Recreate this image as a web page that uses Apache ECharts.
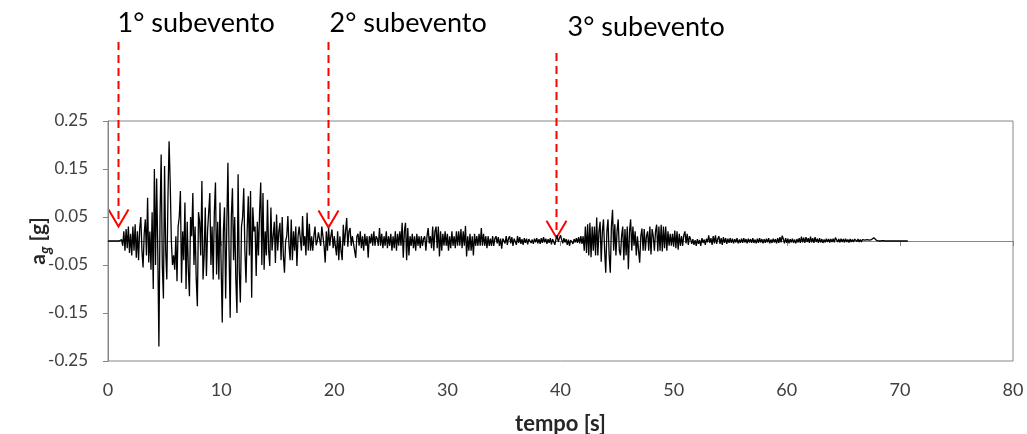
<!DOCTYPE html>
<html><head><meta charset="utf-8">
<script src="https://cdn.jsdelivr.net/npm/echarts@6/dist/echarts.min.js"></script>
<style>html,body{margin:0;padding:0;background:#fff}#c{width:1027px;height:434px}</style>
</head><body><div id="c"></div>
<script>
// sampling of the record (s)
const T_START = 0;
const DT = 0.1;
// acceleration a_g [g], 10 values per second
const acc_00_10 = [
0,0,0,0,0,0,0,0,0,0,
0,0,0.003,-0.01,0.02,-0.02,0.025,-0.015,0.03,-0.025,
0.015,-0.03,0.03,-0.02,0.035,-0.035,0.02,-0.04,0.025,0.05,
-0.02,-0.055,0.015,0.045,-0.03,0.09,-0.045,0.02,-0.06,0.06,
-0.1,0.15,-0.05,0.13,-0.02,-0.22,0.05,0.18,-0.05,-0.12,
0.156,-0.02,-0.08,0.09,0.208,0.12,0.0,-0.05,-0.03,-0.06,
0.01,-0.084,0.03,0.05,0.104,-0.087,0.02,-0.04,0.08,-0.1,
0.04,-0.06,-0.115,0.05,0.01,0.1,-0.05,0.03,-0.08,-0.136,
0.06,0.04,-0.03,0.125,-0.08,-0.03,0.07,-0.073,0.02,0.06,
0.1,-0.05,0.03,-0.08,0.06,0.122,-0.07,0.04,-0.08,0.08];
const acc_10_20 = [
-0.05,-0.17,0.02,0.07,-0.12,0.03,0.163,-0.02,-0.16,0.05,
0.11,-0.04,0.05,-0.08,-0.15,0.139,-0.06,-0.128,0.03,0.05,
0.11,-0.02,-0.087,0.02,0.093,-0.03,0.104,-0.118,0.07,0.02,
0.03,-0.073,0.04,-0.03,0.06,0.122,-0.05,0.1,-0.06,0.02,
-0.03,0.086,-0.02,-0.052,0.07,-0.02,0.01,0.04,-0.046,0.055,
-0.02,0.02,0.038,-0.04,0.05,-0.03,-0.066,0.0,0.01,0.052,
-0.01,-0.04,0.045,-0.04,0.02,-0.02,0.03,-0.052,0.01,0.03,
0.03,-0.02,0.052,-0.01,0.01,-0.03,0.059,-0.02,0.036,-0.02,
0.01,-0.02,0.01,0.03,-0.009,0.0,0.018,0.02,-0.01,0.03,
0.03,-0.01,-0.045,0.02,-0.02,0.027,-0.01,0.01,0.024,-0.015];
const acc_20_30 = [
0.01,-0.01,-0.03,0.02,-0.04,0.01,-0.02,-0.04,0.034,-0.01,
0.02,0.048,-0.012,0.02,0.027,-0.01,0.01,-0.005,-0.02,-0.035,
0.01,0.015,-0.01,0.02,-0.015,0.01,-0.02,0.015,-0.01,0.01,
-0.035,0.01,-0.005,0.015,-0.01,0.02,-0.01,0.01,0.005,-0.01,
0.027,-0.01,0.015,-0.015,0.01,-0.01,0.02,-0.015,0.01,-0.01,
0.015,-0.02,0.01,-0.015,0.02,-0.02,0.015,-0.01,0.02,-0.01,
0.038,-0.035,0.02,0.038,-0.04,0.027,-0.03,0.01,-0.01,0.015,
-0.015,0.01,-0.02,0.015,-0.01,0.01,-0.015,0.01,-0.01,0.005,
0.01,-0.02,0.01,0.027,-0.005,0.01,-0.015,0.03,-0.02,0.02,
0.03,-0.015,0.03,-0.032,0.02,-0.02,0.015,-0.01,0.02,-0.01];
const acc_30_40 = [
0.015,-0.02,0.01,-0.015,0.02,-0.01,0.01,-0.015,0.02,-0.01,
0.02,-0.01,0.025,-0.015,0.02,-0.01,0.031,-0.032,0.01,-0.02,
0.015,-0.02,0.01,-0.03,0.015,-0.01,0.01,-0.01,0.015,-0.01,
0.027,-0.01,0.015,-0.01,0.01,-0.015,0.01,-0.01,0.005,-0.01,
0.01,-0.01,0.005,0.01,-0.005,0.008,-0.01,0.005,-0.016,0.005,
0.008,-0.005,0.01,-0.008,0.005,0.01,-0.005,0.008,-0.01,0.005,
0.006,-0.008,0.01,-0.004,0.008,-0.006,0.004,-0.008,0.006,-0.004,
0.005,-0.007,0.004,0.008,-0.004,0.003,-0.006,0.005,-0.003,0.006,
-0.005,0.004,-0.006,0.006,-0.004,0.008,-0.003,0.005,-0.006,0.004,
-0.004,0.006,-0.007,0.004,0.005,-0.008,0.004,0.012,-0.002,0.006];
const acc_40_50 = [
0.012,0.003,-0.005,0.006,-0.003,0.004,-0.008,0.003,-0.01,0.002,
0.005,-0.006,0.004,-0.003,0.006,-0.004,0.008,-0.005,0.01,-0.006,
0.01,-0.02,0.03,-0.025,0.035,-0.03,0.038,-0.034,0.03,-0.02,
0.03,-0.03,0.049,-0.03,0.02,0.04,-0.043,0.02,0.045,-0.02,
-0.066,0.02,0.045,-0.03,-0.066,0.03,0.065,-0.02,0.035,-0.03,
0.02,0.045,-0.02,-0.03,0.01,0.03,-0.04,0.025,-0.03,0.03,
-0.059,0.02,0.045,-0.02,0.03,-0.01,0.02,-0.03,0.01,-0.02,
-0.045,0.01,0.026,-0.02,0.025,-0.02,0.01,0.02,-0.02,0.03,
-0.028,0.025,0.01,-0.02,0.02,0.034,-0.022,0.03,-0.02,0.034,
-0.022,0.03,-0.015,0.03,-0.02,0.02,-0.01,0.015,-0.01,0.015];
const acc_50_60 = [
-0.012,0.022,-0.015,0.02,-0.018,0.015,-0.01,0.01,-0.01,0.012,
0.02,-0.005,0.015,-0.008,0.01,0.004,-0.006,0.004,-0.008,0.002,
-0.01,0.004,-0.006,0.002,-0.01,0.006,-0.004,0.003,-0.008,0.005,
-0.003,0.012,-0.004,0.006,-0.008,0.01,-0.005,0.012,-0.006,0.004,
0.01,-0.006,0.006,-0.008,0.008,-0.004,0.006,-0.006,0.005,-0.004,
0.006,-0.004,0.005,-0.005,0.004,-0.003,0.006,-0.005,0.003,-0.004,
0.005,-0.004,0.006,-0.003,0.004,-0.005,0.005,-0.003,0.004,-0.004,
0.006,-0.004,0.003,-0.005,0.005,-0.004,0.006,-0.003,0.004,-0.005,
0.004,-0.004,0.005,-0.003,0.006,-0.005,0.003,-0.004,0.005,-0.003,
0.004,-0.005,0.006,-0.004,0.008,-0.003,0.011,0.004,-0.005,0.006];
const acc_60_71 = [
-0.004,0.005,-0.005,0.004,-0.003,0.005,-0.004,0.003,-0.005,0.004,
-0.003,0.006,-0.004,0.009,-0.003,0.007,-0.004,0.008,-0.002,0.006,
-0.004,0.009,-0.003,0.006,-0.004,0.008,-0.002,0.005,-0.004,0.006,
-0.003,0.004,-0.004,0.003,-0.003,0.005,-0.002,0.004,-0.003,0.004,
-0.002,0.005,-0.003,0.007,0.01,-0.002,0.004,-0.003,0.005,-0.002,
0.004,-0.003,0.005,-0.002,0.003,-0.003,0.004,-0.002,0.003,-0.002,
0.004,0.007,-0.001,0.004,-0.002,0.003,-0.002,0.003,-0.001,0.002,
-0.002,0.003,-0.001,0.002,-0.002,0.003,0.005,0.007,0.004,0.002,
0.001,0,0.001,0,0,0.001,0,0,0.001,0,
0,0,0,0,0,0,0,0,0,0,
0,0,0,0,0,0,0,0];
// axes
const yTickValues = [-0.25,-0.15,-0.05,0.05,0.15,0.25];
// annotations
const eventLabels = ['1° subevento','2° subevento','3° subevento'];
const eventTimes = [0.88, 19.45, 39.6];
const eventAcc = [0.03, 0.028, 0.007];

const acc = [].concat(acc_00_10, acc_10_20, acc_20_30, acc_30_40, acc_40_50, acc_50_60, acc_60_71);
const seriesData = acc.map((v, i) => [+(T_START + i * DT).toFixed(2), v]);

const FONT = 'Lato, "Open Sans", sans-serif';
const AXIS_GRAY = '#868686';
const chart = echarts.init(document.getElementById('c'), null, {renderer: 'canvas'});
chart.setOption({
  animation: false,
  backgroundColor: '#fff',
  grid: {left: 108, right: 14, top: 121, bottom: 73, show: true, borderColor: AXIS_GRAY, borderWidth: 1,
    backgroundColor: 'transparent', containLabel: false, outerBoundsMode: 'none'},
  xAxis: {
    type: 'value', min: 0, max: 80, interval: 10,
    axisLine: {show: true, lineStyle: {color: AXIS_GRAY, width: 1}},
    axisTick: {show: true, inside: false, length: 5, lineStyle: {color: AXIS_GRAY}},
    axisLabel: {color: '#404040', fontSize: 18, fontFamily: FONT, margin: 20},
    splitLine: {show: false},
    name: 'tempo [s]', nameLocation: 'middle', nameGap: 52, nameMoveOverlap: false,
    nameTextStyle: {color: '#262626', fontSize: 22, fontWeight: 'bold', fontFamily: FONT}
  },
  yAxis: {
    type: 'value', min: -0.25, max: 0.25, interval: 0.05,
    axisLine: {show: true, lineStyle: {color: AXIS_GRAY, width: 1}},
    axisTick: {show: true, inside: false, length: 5, lineStyle: {color: AXIS_GRAY}, customValues: yTickValues},
    axisLabel: {color: '#404040', fontSize: 17, fontFamily: FONT, margin: 20, customValues: yTickValues,
      formatter: v => (+v).toFixed(2)},
    splitLine: {show: false},
    name: '{a|a}{s|g}{a| [g]}', nameLocation: 'middle', nameGap: 55, nameMoveOverlap: false,
    nameTextStyle: {
      color: '#262626', fontFamily: FONT,
      rich: {
        a: {fontSize: 21, fontWeight: 'bold', fontFamily: FONT, color: '#262626', lineHeight: 30},
        s: {fontSize: 15, fontWeight: 'bold', fontStyle: 'italic', fontFamily: FONT, color: '#262626', lineHeight: 18, verticalAlign: 'bottom'}
      }
    }
  },
  series: [{
    type: 'line', data: seriesData, showSymbol: false, symbol: 'none', sampling: null,
    lineStyle: {color: '#000', width: 1.3}, silent: true
  }]
});

// annotation arrows and labels (x from data, placed above the plot)
const topY = [42, 42, 53];
const textY = [23, 23, 27];
const textDx = [0, 2, 12];
const graphics = [];
eventLabels.forEach((lab, i) => {
  const p = chart.convertToPixel({gridIndex: 0}, [eventTimes[i], eventAcc[i]]);
  const x = Math.round(p[0]) + 0.5, tip = p[1];
  graphics.push({type: 'line', shape: {x1: x, y1: topY[i], x2: x, y2: tip - 3},
    style: {stroke: '#ff0000', lineWidth: 2, lineDash: [8, 5]}, silent: true});
  graphics.push({type: 'polyline', shape: {points: [[x - 10, tip - 17], [x, tip], [x + 10, tip - 17]]},
    style: {stroke: '#ff0000', lineWidth: 2, fill: null}, silent: true});
  graphics.push({type: 'text', x: x + textDx[i] - 1, y: textY[i],
    style: {text: lab, font: '27px ' + FONT, fill: '#000', textAlign: 'left', textVerticalAlign: 'middle'}, silent: true});
});
chart.setOption({graphic: graphics});
</script>
</body></html>
